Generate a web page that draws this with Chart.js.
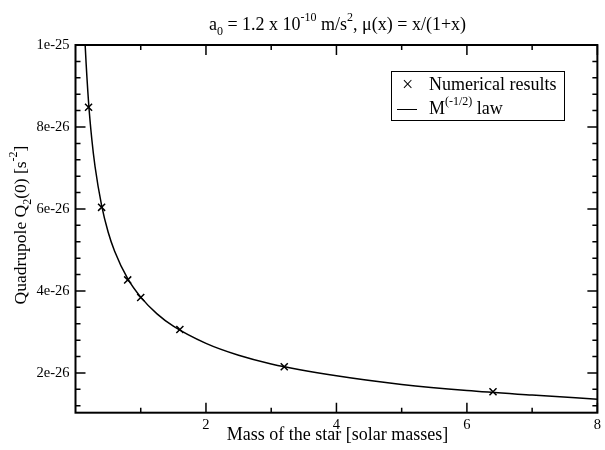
<!DOCTYPE html>
<html>
<head>
<meta charset="utf-8">
<script src="https://cdn.jsdelivr.net/npm/chart.js@4/dist/chart.umd.min.js"></script>
<style>
  body { margin: 0; background: #fff; }
  #wrap { position: relative; width: 605px; height: 450px; font-family: "Liberation Serif", "Times New Roman", serif; color: #000; }
  #chart { position: absolute; left: 0; top: 0; }
  .txt { position: absolute; font-size: 18px; line-height: 24px; white-space: nowrap; }
  .txt sub, .txt sup { font-size: 12px; line-height: 0; }
  .txt sub { vertical-align: -5px; }
  .txt sup { vertical-align: 9px; }
  #title { left: 0; width: 675px; top: 12px; text-align: center; }
  #xlabel { left: 0; width: 675px; top: 422px; text-align: center; }
  #ylabel { left: -130px; top: 213px; width: 300px; text-align: center; transform: rotate(-90deg); font-size: 17.5px; }
  #legend { position: absolute; left: 391px; top: 71px; width: 172px; height: 48px; border: 1px solid #000; }
  #legend .row { position: absolute; left: 37px; }
  #legend .line { position: absolute; left: 5px; top: 37px; width: 20px; height: 1px; background: #000; }
</style>
</head>
<body>
<div id="wrap">
  <canvas id="chart" width="605" height="450"></canvas>
  <div class="txt" id="title">a<sub>0</sub> = 1.2 x 10<sup>-10</sup> m/s<sup>2</sup>, &mu;(x) = x/(1+x)</div>
  <div class="txt" id="xlabel">Mass of the star [solar masses]</div>
  <div class="txt" id="ylabel">Quadrupole Q<sub>2</sub>(0) [s<sup>-2</sup>]</div>
  <div id="legend">
    <span class="txt" style="left:10px; top:0px; font-size:20px;">&times;</span>
    <div class="txt row" style="top:0px">Numerical results</div>
    <div class="line"></div>
    <div class="txt row" style="top:24px">M<sup>(-1/2)</sup> law</div>
  </div>
</div>
<script>
// Numerical results
var starMass = [0.2, 0.4, 0.8, 1.0, 1.6, 3.2, 6.4];
var quadrupole = [8.48e-26, 6.04e-26, 4.27e-26, 3.84e-26, 3.06e-26, 2.15e-26, 1.54e-26];

// M^(-1/2) law curve
var lawMass = [0.14, 0.15, 0.2, 0.25, 0.3, 0.4, 0.5, 0.6, 0.8, 1.0, 1.25, 1.5, 2, 2.5, 3, 4, 5, 6, 7, 8];
var lawQuad = [10.3e-26, 9.94e-26, 8.61e-26, 7.70e-26, 7.03e-26, 6.09e-26, 5.44e-26, 4.97e-26, 4.30e-26, 3.85e-26,
               3.44e-26, 3.14e-26, 2.72e-26, 2.43e-26, 2.22e-26, 1.93e-26, 1.72e-26, 1.57e-26, 1.46e-26, 1.36e-26];

// axis ticks
var xTicks = [2, 4, 6, 8];
var xTickLabels = ["2", "4", "6", "8"];
var xMinor = [1, 3, 5, 7];
var yTicks = [2e-26, 4e-26, 6e-26, 8e-26, 1e-25];
var yTickLabels = ["2e-26", "4e-26", "6e-26", "8e-26", "1e-25"];
var yMinor = [1.2e-26, 1.6e-26, 2.4e-26, 2.8e-26, 3.2e-26, 3.6e-26, 4.4e-26, 4.8e-26, 5.2e-26, 5.6e-26,
              6.4e-26, 6.8e-26, 7.2e-26, 7.6e-26, 8.4e-26, 8.8e-26, 9.2e-26, 9.6e-26];

//--------------------------------------------------------------------
// * frame with inward ticks on all four sides
//--------------------------------------------------------------------
var frameTicks = {
    id: 'frameTicks',
    afterDraw: function(chart) {
        var ctx = chart.ctx, a = chart.chartArea;
        var x = chart.scales.x, y = chart.scales.y;
        ctx.save();
        ctx.strokeStyle = '#000';
        ctx.lineWidth = 1.5;
        ctx.beginPath();
        function xt(v, len) {
            var p = x.getPixelForValue(v);
            ctx.moveTo(p, a.bottom); ctx.lineTo(p, a.bottom - len);
            ctx.moveTo(p, a.top); ctx.lineTo(p, a.top + len);
        }
        function yt(v, len) {
            var p = y.getPixelForValue(v);
            ctx.moveTo(a.left, p); ctx.lineTo(a.left + len, p);
            ctx.moveTo(a.right, p); ctx.lineTo(a.right - len, p);
        }
        xTicks.forEach(function(v) { xt(v, 10); });
        xMinor.forEach(function(v) { xt(v, 5); });
        yTicks.forEach(function(v) { yt(v, 10); });
        yMinor.forEach(function(v) { yt(v, 5); });
        ctx.stroke();
        ctx.lineWidth = 2;
        ctx.strokeRect(a.left, a.top, a.right - a.left, a.bottom - a.top);
        ctx.restore();
    }
};

function makeChart() {
    var ctx = document.getElementById('chart').getContext('2d');
    var points = starMass.map(function(m, i) { return {x: m, y: quadrupole[i]}; });
    var law = lawMass.map(function(m, i) { return {x: m, y: lawQuad[i]}; });
    var tickFont = {family: '"Liberation Serif", serif', size: 14.5};

    new Chart(ctx, {
        type: 'scatter',
        data: {
            datasets: [{
                label: 'Numerical results',
                data: points,
                pointStyle: 'crossRot',
                pointRadius: 5,
                pointBorderWidth: 1.5,
                borderColor: '#000',
                backgroundColor: '#000',
                showLine: false
            }, {
                label: 'M^(-1/2) law',
                data: law,
                showLine: true,
                pointRadius: 0,
                borderColor: '#000',
                borderWidth: 1.5,
                cubicInterpolationMode: 'monotone'
            }]
        },
        options: {
            responsive: false,
            animation: false,
            layout: {padding: {top: 45, right: 5, left: 0, bottom: 0}},
            plugins: {legend: {display: false}, title: {display: false}, tooltip: {enabled: false}},
            scales: {
                x: {
                    type: 'linear', min: 0, max: 8,
                    grid: {display: false, drawTicks: false},
                    border: {display: false},
                    afterBuildTicks: function(s) { s.ticks = xTicks.map(function(v) { return {value: v}; }); },
                    afterFit: function(s) { s.height = 37.3; },
                    ticks: {
                        color: '#000', font: tickFont, padding: 4, maxRotation: 0,
                        callback: function(v) { return xTickLabels[xTicks.indexOf(v)]; }
                    }
                },
                y: {
                    type: 'linear', min: 1.03e-26, max: 1e-25,
                    grid: {display: false, drawTicks: false},
                    border: {display: false},
                    afterBuildTicks: function(s) { s.ticks = yTicks.map(function(v) { return {value: v}; }); },
                    afterFit: function(s) { s.width = 75.5; },
                    ticks: {
                        color: '#000', font: tickFont, padding: 6,
                        callback: function(v) { return yTickLabels[yTicks.indexOf(v)]; }
                    }
                }
            }
        },
        plugins: [frameTicks]
    });
}

makeChart();
</script>
</body>
</html>
